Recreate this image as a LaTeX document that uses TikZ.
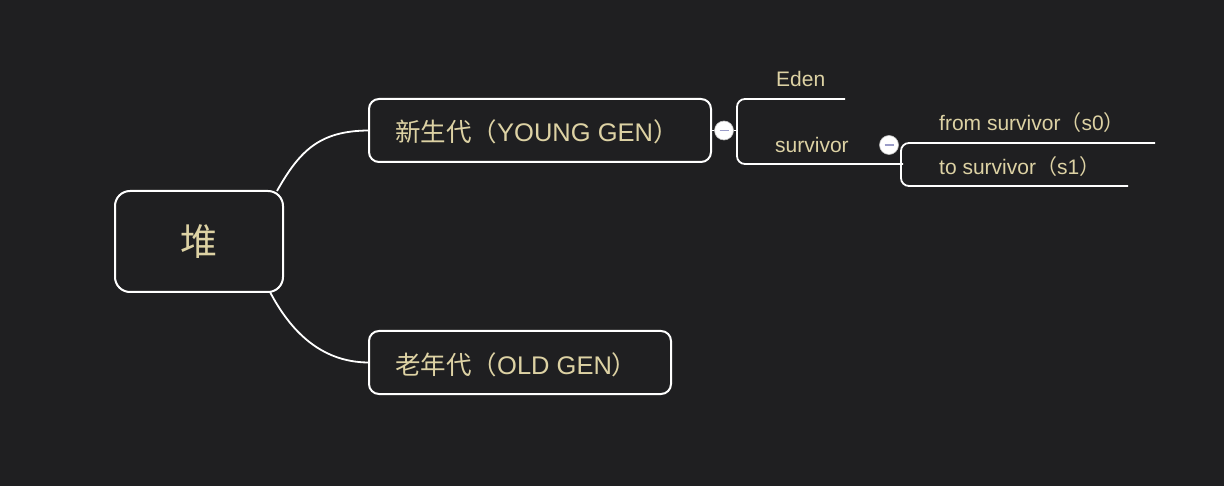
\documentclass[tikz,border=0pt]{standalone}
\usepackage{fontspec}
\setmainfont{Liberation Sans}
\newfontfamily\cjk{Noto Sans CJK SC}
\begin{document}
\definecolor{bg}{HTML}{1F1F21}
\definecolor{txt}{HTML}{DDD2A4}
\definecolor{minus}{HTML}{9A9CC8}
\begin{tikzpicture}[x=1pt,y=-1pt,
  box/.style={draw=white,line width=2pt,fill=bg,text=txt,inner sep=0pt},
  lbl/.style={text=txt,inner sep=0pt,anchor=base west},
  big/.style={font=\fontsize{25.5}{30}\selectfont},
  small/.style={font=\fontsize{21}{25}\selectfont},
  wire/.style={draw=white,line width=1.8pt},
  toggle/.style={circle,fill=white,draw=white!75!black,line width=0.6pt,minimum size=19pt,inner sep=0pt}
]
\fill[bg] (0,0) rectangle (1224,486);
\useasboundingbox (0,0) rectangle (1224,486);

% root
\node[box,rounded corners=15pt,minimum width=168pt,minimum height=101pt,font=\cjk\fontsize{37}{44}\selectfont] (root) at (199,241.5) {堆};
% children
\node[box,rounded corners=10pt,minimum width=342pt,minimum height=63pt] (young) at (540,130.5) {};
\node[lbl,big] (youngt) at (395,142) {{\cjk 新生代（}YOUNG GEN{\cjk ）}};
\node[box,rounded corners=10pt,minimum width=302pt,minimum height=63pt] (old) at (520,362.5) {};
\node[lbl,big] (oldt) at (395,374) {{\cjk 老年代（}OLD GEN{\cjk ）}};

% curves root -> children
\draw[wire] (277,191) .. controls (300,150) and (320,131) .. (young.west);
\draw[wire] (270,292) .. controls (290,330) and (320,362) .. (old.west);

% young gen subtree
\coordinate (b1top) at (845,99);
\coordinate (b1mid) at (737,130.5);
\coordinate (b1bot) at (903,164);
\draw[wire] (young.east) -- (b1mid);
\draw[wire,rounded corners=8pt] (b1top) -- (737,99) -- (737,164) -- (b1bot);
\node[toggle] (tg1) at (724,130.5) {};
\draw[minus,line width=1.6pt] ([xshift=-4.5pt]tg1.center) -- ([xshift=4.5pt]tg1.center);

\node[lbl,small] (eden) at (776,87) {Eden};
\node[lbl,small] (surv) at (775,153) {survivor};

% survivor subtree
\coordinate (b2top) at (1155,143);
\coordinate (b2bot) at (1128,186);
\draw[wire,rounded corners=8pt] (b2top) -- (901,143) -- (901,186) -- (b2bot);
\node[toggle] (tg2) at (889,145) {};
\draw[minus,line width=1.6pt] ([xshift=-4.5pt]tg2.center) -- ([xshift=4.5pt]tg2.center);

\node[lbl,small] (s0) at (939,131) {from survivor{\cjk （}s0{\cjk ）}};
\node[lbl,small] (s1) at (939,175) {to survivor{\cjk （}s1{\cjk ）}};
\end{tikzpicture}
\end{document}
